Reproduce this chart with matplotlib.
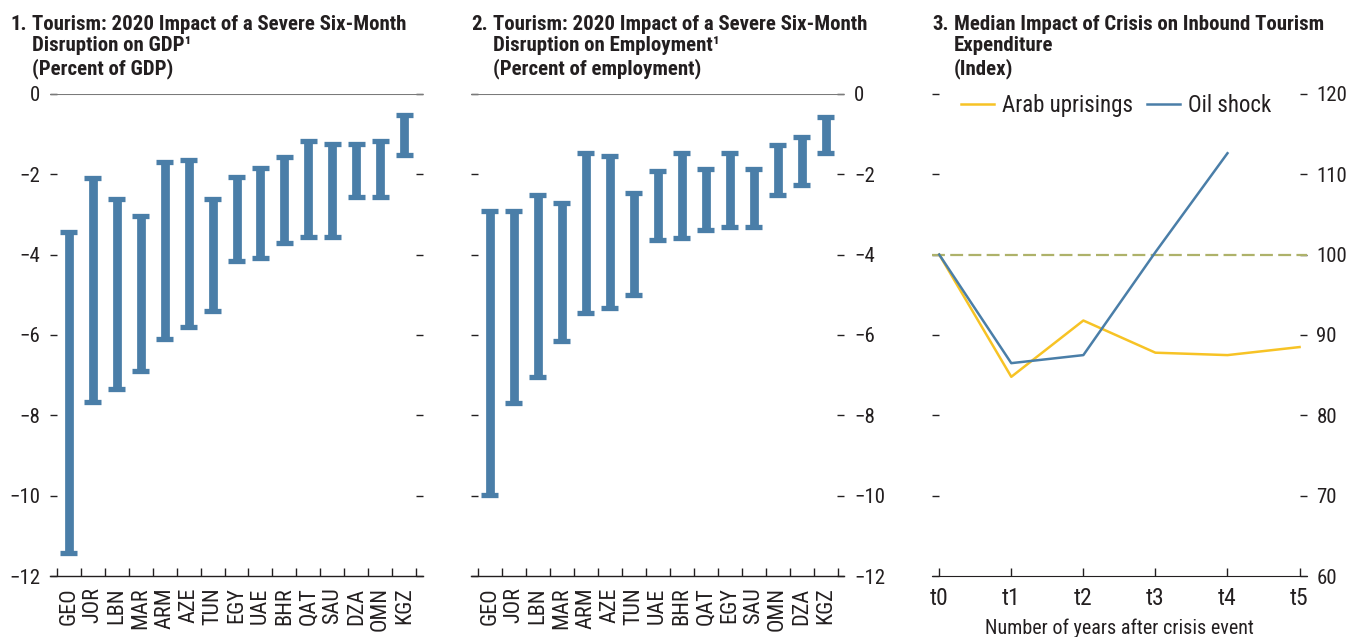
import matplotlib
matplotlib.use('Agg')
import matplotlib.pyplot as plt
from matplotlib import font_manager

# pick a condensed sans close to the original's Univers Condensed
installed = {f.name for f in font_manager.fontManager.ttflist}
for fam in ['Roboto Condensed', 'Archivo Narrow', 'Barlow Condensed', 'Barlow Semi Condensed',
            'Sofia Sans Condensed', 'DejaVu Sans']:
    if fam in installed:
        break
plt.rcParams['font.family'] = [fam, 'DejaVu Sans']

# panel 1: GDP impact ranges (percent of GDP)
cats1 = ['GEO', 'JOR', 'LBN', 'MAR', 'ARM', 'AZE', 'TUN', 'EGY', 'UAE', 'BHR', 'QAT', 'SAU', 'DZA', 'OMN', 'KGZ']
gdp_high = [-3.43, -2.10, -2.63, -3.03, -1.71, -1.65, -2.63, -2.06, -1.85, -1.58, -1.18, -1.26, -1.26, -1.18, -0.53]
gdp_low = [-11.42, -7.67, -7.35, -6.89, -6.10, -5.79, -5.41, -4.16, -4.08, -3.71, -3.56, -3.56, -2.58, -2.58, -1.53]

# panel 2: employment impact ranges (percent of employment)
cats2 = ['GEO', 'JOR', 'LBN', 'MAR', 'ARM', 'AZE', 'TUN', 'UAE', 'BHR', 'QAT', 'EGY', 'SAU', 'OMN', 'DZA', 'KGZ']
emp_high = [-2.91, -2.91, -2.53, -2.73, -1.48, -1.56, -2.46, -1.93, -1.48, -1.88, -1.48, -1.88, -1.28, -1.08, -0.58]
emp_low = [-9.98, -7.70, -7.05, -6.16, -5.46, -5.33, -5.00, -3.63, -3.58, -3.38, -3.31, -3.31, -2.53, -2.26, -1.48]

# panel 3: median inbound tourism expenditure index
periods = ['t0', 't1', 't2', 't3', 't4', 't5']
arab = [100, 84.8, 91.8, 87.8, 87.5, 88.5]
oil = [100, 86.5, 87.5, 100.3, 112.6]

BLUE = '#4a7ea8'
YELLOW = '#f7c325'
OLIVE = '#aeb26a'
TXT = '#231f20'

fig = plt.figure(figsize=(13.48, 6.37), dpi=100)
ax1 = fig.add_axes([0.0371, 0.0953, 0.2767, 0.7576])
ax2 = fig.add_axes([0.3494, 0.0953, 0.2769, 0.7576])
ax3 = fig.add_axes([0.6914, 0.0953, 0.2780, 0.7576])


def range_panel(ax, cats, hi, lo, label_side):
    x = list(range(len(cats)))
    ax.vlines(x, lo, hi, color=BLUE, lw=6.3, capstyle='butt')
    ax.hlines(hi, [i - 0.35 for i in x], [i + 0.35 for i in x], color=BLUE, lw=3.8, capstyle='butt')
    ax.hlines(lo, [i - 0.35 for i in x], [i + 0.35 for i in x], color=BLUE, lw=3.8, capstyle='butt')
    ax.axhline(0, color='#7a7a7a', lw=1.5)
    ax.set_xlim(-0.78, 14.78)
    ax.set_ylim(-12, 0)
    for s in ['top', 'left', 'right']:
        ax.spines[s].set_visible(False)
    ax.spines['bottom'].set_color(TXT)
    ax.spines['bottom'].set_linewidth(1.0)
    ax.set_yticks(range(-12, 1, 2))
    ax.set_yticklabels(['\u2212' + str(-v) if v < 0 else str(v) for v in range(-12, 1, 2)])
    ax.tick_params(axis='y', direction='in', length=5, width=1, color=TXT,
                   left=True, right=True, labelleft=(label_side == 'left'),
                   labelright=(label_side == 'right'), labelsize=15, pad=7, labelcolor=TXT)
    ax.set_xticks([i + 0.5 for i in range(-1, len(cats))], minor=False)
    ax.set_xticklabels([])
    ax.tick_params(axis='x', which='major', direction='in', length=6, width=1, color=TXT)
    ax.set_xticks(x, minor=True)
    ax.set_xticklabels(cats, minor=True, rotation=90, fontsize=16, color=TXT)
    ax.tick_params(axis='x', which='minor', length=0, pad=8)


range_panel(ax1, cats1, gdp_high, gdp_low, 'left')
range_panel(ax2, cats2, emp_high, emp_low, 'right')

# panel 3
ax3.axhline(100, color=OLIVE, lw=1.6, dashes=(5.8, 2.4))
ax3.plot(range(len(arab)), arab, color=YELLOW, lw=1.8, label='Arab uprisings')
ax3.plot(range(len(oil)), oil, color=BLUE, lw=1.8, label='Oil shock')
ax3.set_xlim(-0.1, 5.1)
ax3.set_ylim(60, 120)
for s in ['top', 'left', 'right']:
    ax3.spines[s].set_visible(False)
ax3.spines['bottom'].set_color(TXT)
ax3.set_xticks(range(len(periods)))
ax3.set_xticklabels(periods)
ax3.tick_params(axis='x', direction='in', length=6, width=1, color=TXT, labelsize=17, pad=8, labelcolor=TXT)
ax3.set_yticks(range(60, 121, 10))
ax3.tick_params(axis='y', direction='in', length=5, width=1, color=TXT, left=True, right=True,
                labelleft=False, labelright=True, labelsize=15, pad=7, labelcolor=TXT)
ax3.set_xlabel('Number of years after crisis event', fontsize=14.5, color=TXT, labelpad=6)
ax3.legend(loc='upper left', bbox_to_anchor=(0.077, 0.999), ncol=2, frameon=False, fontsize=16.5,
           handlelength=1.45, columnspacing=0.6, handletextpad=0.35, borderpad=0, borderaxespad=0,
           labelcolor=TXT)

# titles with hanging indent
titles = [
    (0.0074, 0.0237, '1.', 'Tourism: 2020 Impact of a Severe Six-Month\nDisruption on GDP\u00b9\n(Percent of GDP)'),
    (0.3494, 0.3657, '2.', 'Tourism: 2020 Impact of a Severe Six-Month\nDisruption on Employment\u00b9\n(Percent of employment)'),
    (0.6914, 0.7077, '3.', 'Median Impact of Crisis on Inbound Tourism\nExpenditure\n(Index)'),
]
for xn, xt, num, body in titles:
    fig.text(xn, 0.977, num, ha='left', va='top', fontsize=15, fontweight='bold', color=TXT)
    fig.text(xt, 0.977, body, ha='left', va='top', fontsize=15, fontweight='bold', color=TXT,
             linespacing=1.17)

fig.savefig('out.png', dpi=100)
